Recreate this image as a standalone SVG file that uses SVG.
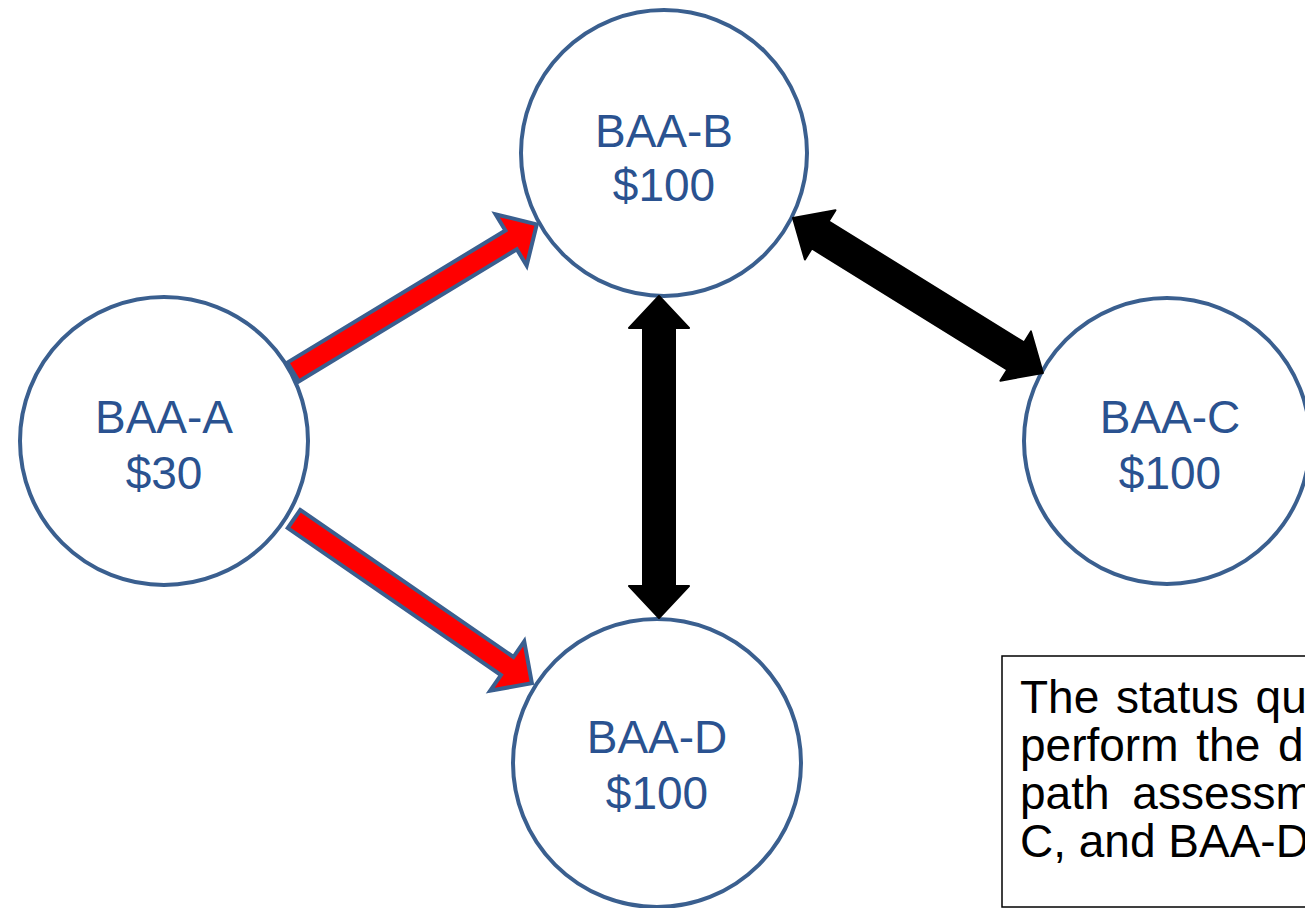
<svg xmlns="http://www.w3.org/2000/svg" width="1305" height="908" viewBox="0 0 1305 908">
<style>
.node{fill:#ffffff;stroke:#3A5F8F;stroke-width:4}
.lbl{font-family:"Liberation Sans",Arial,sans-serif;font-size:46px;fill:#2A5290;text-anchor:middle}
.red{fill:#FF0000;stroke:#3A5F8F;stroke-width:4;stroke-linejoin:miter}
.blk{fill:#000000;stroke:#000000;stroke-width:2;stroke-linejoin:round}
.note{font-family:"Liberation Sans",Arial,sans-serif;font-size:46px;fill:#000000}
</style>
<rect width="1305" height="908" fill="#ffffff"/>
<g id="node-a"><circle class="node" cx="164" cy="441" r="144"/><text class="lbl" x="164" y="433">BAA-A</text><text class="lbl" x="164" y="489">$30</text></g>
<g id="node-b"><circle class="node" cx="664" cy="153" r="143"/><text class="lbl" x="664" y="147">BAA-B</text><text class="lbl" x="664" y="201">$100</text></g>
<g id="node-c"><circle class="node" cx="1167" cy="441" r="143"/><text class="lbl" x="1170" y="433">BAA-C</text><text class="lbl" x="1170" y="489">$100</text></g>
<g id="node-d"><circle class="node" cx="657" cy="763" r="144"/><text class="lbl" x="657" y="753">BAA-D</text><text class="lbl" x="657" y="809">$100</text></g>
<g id="connectors">
<path class="red" transform="translate(293,372) rotate(-31.2)" d="M0,-11 L255,-11 L255,-30 L285,0 L255,30 L255,11 L0,11 Z"/>
<path class="red" transform="translate(294,519) rotate(34.6)" d="M0,-11 L259,-11 L259,-30 L289,0 L259,30 L259,11 L0,11 Z"/>
<path class="blk" transform="translate(659,296) rotate(90)" d="M0,0 L32,-30 L32,-16 L290,-16 L290,-30 L322,0 L290,30 L290,16 L32,16 L32,30 Z"/>
<path class="blk" transform="translate(793,218) rotate(31.8)" d="M0,0 L32,-29 L32,-16 L262,-16 L262,-29 L294,0 L262,29 L262,16 L32,16 L32,29 Z"/>
</g>
<g id="note">
<rect x="1002" y="656" width="340" height="251" fill="#ffffff" stroke="#000000" stroke-width="1.5"/>
<text class="note" x="1020" y="713" word-spacing="4">The status qu</text>
<text class="note" x="1020" y="761" word-spacing="5">perform the d</text>
<text class="note" x="1020" y="809" word-spacing="10">path assessm</text>
<text class="note" x="1020" y="857">C, and BAA-D</text>
</g>
</svg>
